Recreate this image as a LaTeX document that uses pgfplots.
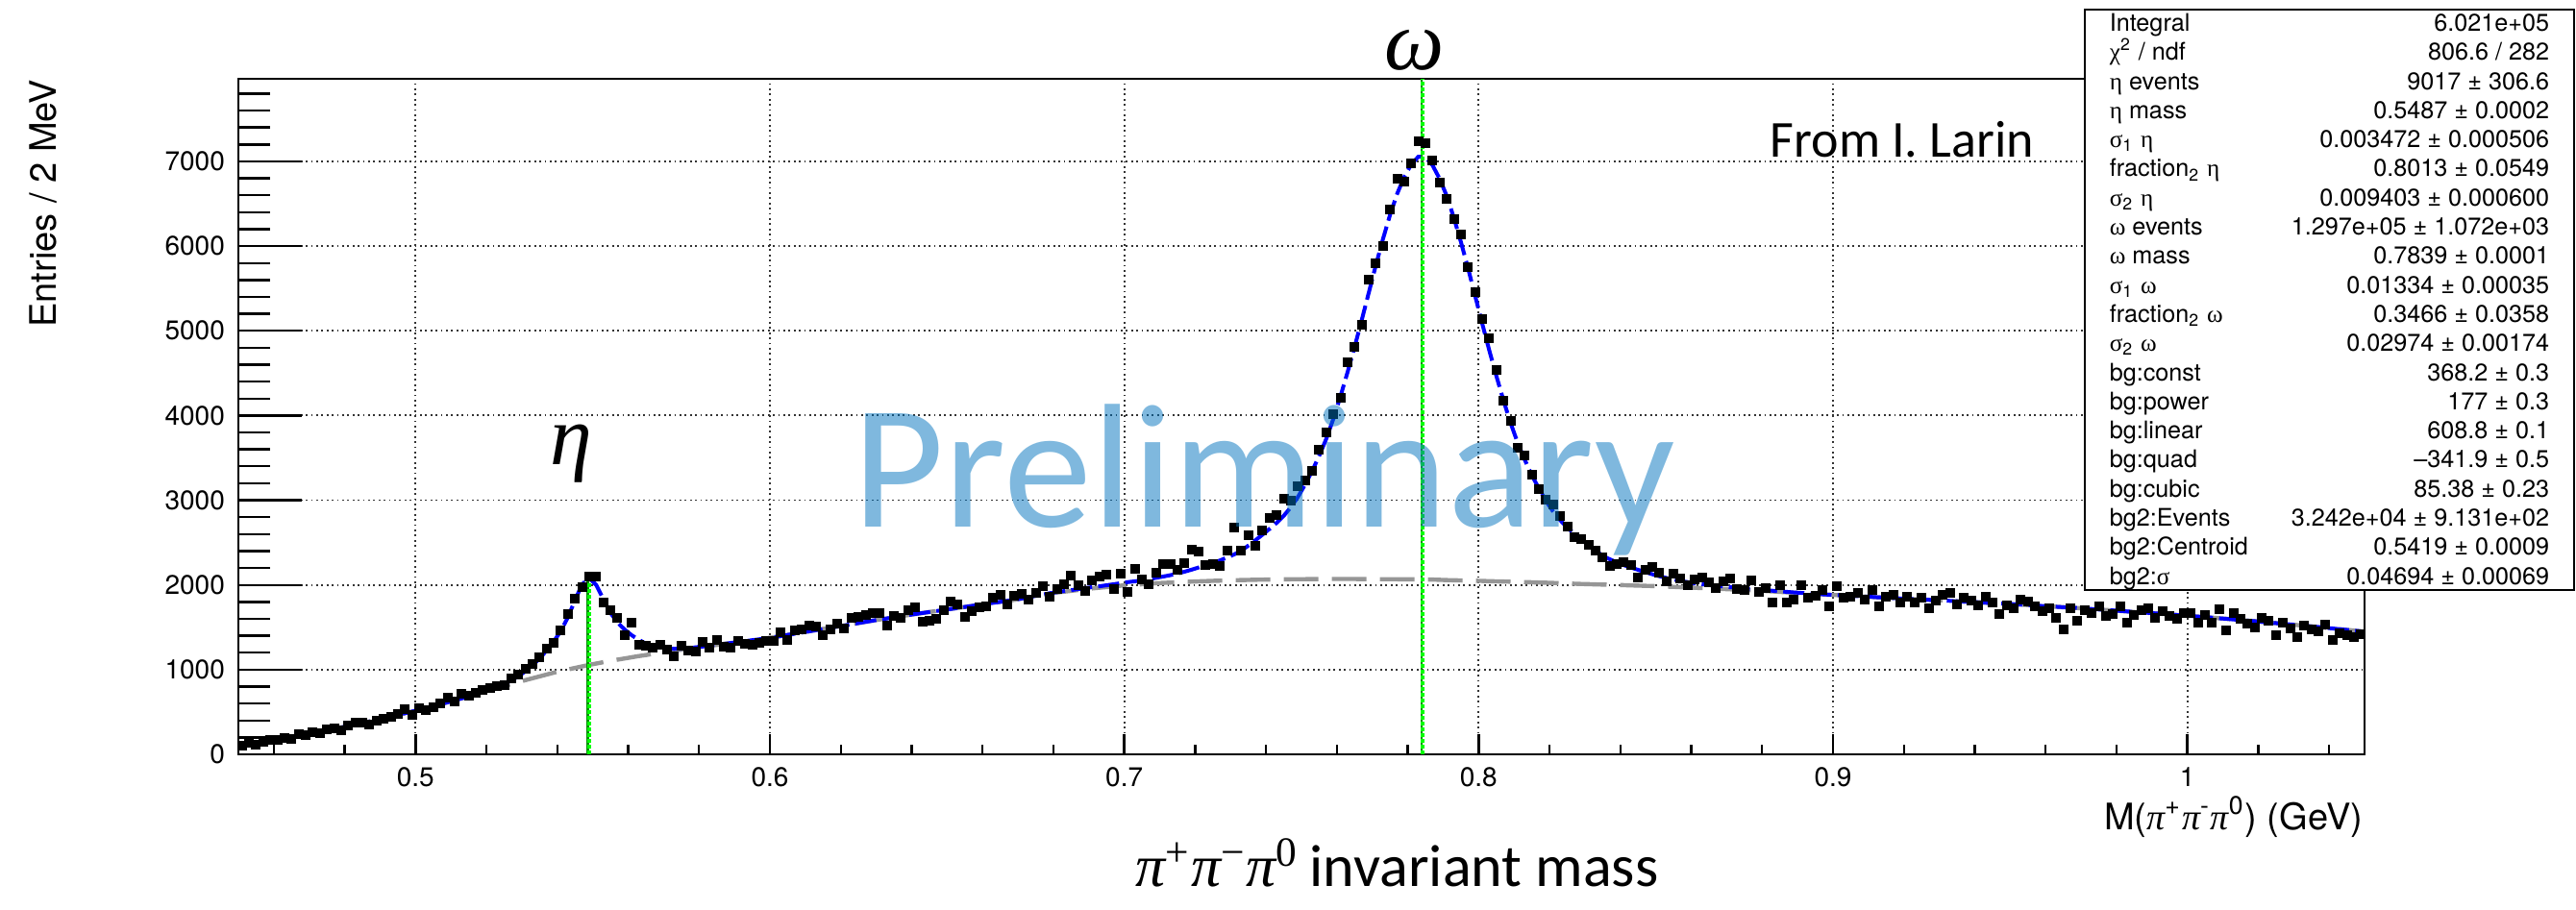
\documentclass[border=0pt]{standalone}
\usepackage{fontspec}
\setmainfont{TeX Gyre Heros}
\newfontfamily\calib{Carlito}
\newfontfamily\serif{Liberation Serif}
\usepackage{pgfplots}
\usepackage{pgfplotstable}
\pgfplotsset{compat=1.18}
\definecolor{prelim}{RGB}{0,114,189}
\definecolor{dkgreen}{RGB}{0,140,0}
\definecolor{ltgreen}{RGB}{0,255,0}
\definecolor{fitblue}{RGB}{0,0,255}
\definecolor{bggray}{RGB}{150,150,150}

\pgfplotstableread{
x b f d
0.451 116 116 100
0.453 128 128 138
0.455 140 140 112
0.457 152 152 146
0.459 164 164 171
0.461 178 178 165
0.463 192 192 188
0.465 208 208 180
0.467 222 222 237
0.469 238 238 226
0.471 253 253 262
0.473 269 269 251
0.475 285 285 297
0.477 301 301 306
0.479 317 317 284
0.481 334 334 340
0.483 352 352 371
0.485 370 370 378
0.487 388 388 352
0.489 406 406 398
0.491 425 425 419
0.493 445 445 441
0.495 465 465 482
0.497 485 485 532
0.499 505 505 470
0.501 526 526 541
0.503 548 548 522
0.505 570 570 561
0.507 592 592 604
0.509 614 614 668
0.511 637 637 622
0.513 661 661 712
0.515 685 686 690
0.517 709 711 726
0.519 733 737 758
0.521 757 764 780
0.523 781 796 806
0.525 805 830 822
0.527 829 872 901
0.529 853 921 943
0.531 876 980 1015
0.533 898 1050 1068
0.535 920 1132 1141
0.537 942 1225 1252
0.539 964 1331 1318
0.541 984 1457 1466
0.543 1002 1618 1655
0.545 1020 1820 1834
0.547 1038 2007 1972
0.549 1056 2080 2102
0.551 1072 1998 2094
0.553 1088 1831 1795
0.555 1102 1671 1702
0.557 1118 1556 1612
0.559 1132 1473 1405
0.561 1146 1406 1552
0.563 1160 1352 1296
0.565 1172 1308 1280
0.567 1186 1278 1262
0.569 1198 1257 1298
0.571 1211 1248 1231
0.573 1223 1245 1160
0.575 1235 1247 1283
0.577 1247 1254 1230
0.579 1259 1263 1215
0.581 1270 1272 1330
0.583 1282 1282 1255
0.585 1292 1292 1351
0.587 1304 1304 1272
0.589 1314 1314 1262
0.591 1326 1326 1340
0.593 1336 1336 1301
0.595 1348 1348 1292
0.597 1358 1358 1318
0.599 1370 1370 1335
0.601 1382 1382 1338
0.603 1396 1396 1441
0.605 1410 1410 1352
0.607 1424 1424 1460
0.609 1438 1438 1476
0.611 1452 1452 1521
0.613 1466 1466 1513
0.615 1480 1480 1402
0.617 1494 1494 1478
0.619 1508 1508 1545
0.621 1522 1522 1490
0.623 1536 1536 1612
0.625 1550 1550 1622
0.627 1564 1564 1640
0.629 1578 1578 1668
0.631 1592 1592 1672
0.633 1604 1604 1515
0.635 1618 1618 1634
0.637 1630 1630 1612
0.639 1644 1644 1706
0.641 1656 1656 1732
0.643 1668 1668 1560
0.645 1680 1680 1582
0.647 1692 1692 1601
0.649 1704 1704 1698
0.651 1716 1716 1808
0.653 1728 1728 1765
0.655 1740 1740 1622
0.657 1752 1752 1690
0.659 1764 1764 1735
0.661 1776 1776 1742
0.663 1788 1788 1850
0.665 1800 1800 1885
0.667 1812 1812 1768
0.669 1824 1824 1875
0.671 1838 1840 1890
0.673 1852 1854 1826
0.675 1868 1870 1905
0.677 1882 1885 1980
0.679 1898 1902 1862
0.681 1910 1915 1948
0.683 1920 1927 2010
0.685 1930 1938 2105
0.687 1940 1951 2002
0.689 1950 1963 1930
0.691 1959 1974 2050
0.693 1967 1984 2098
0.695 1975 1996 2125
0.697 1983 2008 1955
0.699 1991 2021 2136
0.701 1998 2033 1918
0.703 2003 2043 2190
0.705 2008 2054 2062
0.707 2014 2068 2003
0.709 2020 2084 2140
0.711 2024 2099 2248
0.713 2027 2115 2246
0.715 2031 2134 2175
0.717 2035 2156 2262
0.719 2039 2180 2420
0.721 2042 2206 2398
0.723 2045 2234 2231
0.725 2048 2262 2250
0.727 2050 2289 2226
0.729 2054 2323 2402
0.731 2056 2360 2675
0.733 2057 2402 2410
0.735 2059 2464 2585
0.737 2061 2527 2462
0.739 2062 2593 2640
0.741 2064 2662 2788
0.743 2065 2733 2820
0.745 2066 2816 3012
0.747 2067 2917 2998
0.749 2068 3038 3170
0.751 2068 3183 3230
0.753 2069 3344 3352
0.755 2069 3524 3601
0.757 2070 3724 3795
0.759 2070 3960 4021
0.761 2070 4225 4205
0.763 2070 4510 4630
0.765 2070 4810 4805
0.767 2069 5125 5075
0.769 2069 5450 5600
0.771 2068 5775 5800
0.773 2068 6083 6001
0.775 2067 6368 6430
0.777 2067 6617 6790
0.779 2066 6816 6760
0.781 2066 6966 6980
0.783 2065 7055 7235
0.785 2064 7050 7215
0.787 2063 6953 7014
0.789 2060 6794 6745
0.791 2057 6592 6560
0.793 2055 6335 6315
0.795 2053 6048 6135
0.797 2051 5741 5752
0.799 2049 5414 5460
0.801 2047 5087 5144
0.803 2044 4769 4917
0.805 2042 4467 4536
0.807 2040 4180 4175
0.809 2038 3913 3932
0.811 2035 3680 3620
0.813 2033 3478 3532
0.815 2031 3296 3306
0.817 2028 3138 3126
0.819 2026 2991 3010
0.821 2023 2868 2946
0.823 2020 2765 2810
0.825 2017 2678 2690
0.827 2014 2605 2563
0.829 2011 2535 2540
0.831 2009 2468 2473
0.833 2006 2406 2405
0.835 2004 2344 2330
0.837 2002 2303 2225
0.839 2000 2266 2250
0.841 1997 2233 2270
0.843 1994 2205 2230
0.845 1992 2178 2090
0.847 1989 2150 2173
0.849 1987 2126 2211
0.851 1983 2103 2145
0.853 1980 2082 2038
0.855 1977 2064 2135
0.857 1973 2047 2077
0.859 1970 2033 2000
0.861 1966 2019 2060
0.863 1963 2008 2082
0.865 1959 1998 2028
0.867 1956 1991 1962
0.869 1952 1982 2040
0.871 1948 1973 2077
0.873 1944 1964 1948
0.875 1940 1957 1942
0.877 1936 1951 2058
0.879 1932 1945 1920
0.881 1928 1939 1968
0.883 1923 1931 1788
0.885 1918 1925 2000
0.887 1913 1918 1788
0.889 1908 1911 1830
0.891 1904 1906 2000
0.893 1899 1899 1846
0.895 1894 1894 1872
0.897 1889 1889 1942
0.899 1884 1884 1750
0.901 1880 1880 1990
0.903 1875 1875 1846
0.905 1871 1871 1865
0.907 1867 1867 1905
0.909 1862 1862 1822
0.911 1858 1858 1942
0.913 1853 1853 1750
0.915 1849 1849 1860
0.917 1845 1845 1885
0.919 1840 1840 1798
0.921 1836 1836 1865
0.923 1832 1832 1790
0.925 1828 1828 1846
0.927 1824 1824 1730
0.929 1820 1820 1812
0.931 1816 1816 1880
0.933 1812 1812 1904
0.935 1807 1807 1768
0.937 1803 1803 1846
0.939 1799 1799 1812
0.941 1795 1795 1760
0.943 1790 1790 1865
0.945 1786 1786 1790
0.947 1781 1781 1654
0.949 1777 1777 1760
0.951 1772 1772 1722
0.953 1768 1768 1827
0.955 1762 1762 1800
0.957 1758 1758 1750
0.959 1752 1752 1690
0.961 1747 1747 1722
0.963 1742 1742 1615
0.965 1737 1737 1480
0.967 1732 1732 1730
0.969 1727 1727 1577
0.971 1721 1721 1698
0.973 1716 1716 1668
0.975 1710 1710 1742
0.977 1704 1704 1635
0.979 1699 1699 1658
0.981 1693 1693 1750
0.983 1687 1687 1558
0.985 1681 1681 1640
0.987 1676 1676 1702
0.989 1670 1670 1730
0.991 1664 1664 1615
0.993 1658 1658 1690
0.995 1652 1652 1635
0.997 1645 1645 1596
0.999 1639 1639 1673
1.001 1633 1633 1662
1.003 1626 1626 1558
1.005 1620 1620 1640
1.007 1613 1613 1558
1.009 1606 1606 1711
1.011 1600 1600 1461
1.013 1592 1592 1673
1.015 1586 1586 1602
1.017 1578 1578 1548
1.019 1572 1572 1500
1.021 1564 1564 1615
1.023 1556 1556 1575
1.025 1549 1549 1404
1.027 1541 1541 1558
1.029 1534 1534 1490
1.031 1526 1526 1385
1.033 1518 1518 1520
1.035 1510 1510 1480
1.037 1502 1502 1452
1.039 1494 1494 1530
1.041 1486 1486 1346
1.043 1477 1477 1430
1.045 1469 1469 1404
1.047 1461 1461 1385
1.049 1452 1452 1420
}\histtable

\newcommand\g[1]{{\serif #1}}
\newcommand\statrow[3]{%
  \node[anchor=base west,inner sep=0] at (2194,{913.6-30.3*#1}) {#2};
  \node[anchor=base east,inner sep=0] at (2653,{913.6-30.3*#1}) {#3};}

\begin{document}
\begin{tikzpicture}
\useasboundingbox (0,0) rectangle (670pt,236.5pt);
\begin{axis}[
  at={(62pt,40.25pt)}, anchor=south west,
  width=553pt, height=175.75pt, scale only axis,
  xmin=0.45, xmax=1.05, ymin=0, ymax=7975,
  xtick={0.5,0.6,0.7,0.8,0.9,1.0},
  xticklabels={0.5,0.6,0.7,0.8,0.9,1},
  minor xtick={0.46,0.48,0.52,0.54,0.56,0.58,0.62,0.64,0.66,0.68,0.72,0.74,0.76,0.78,0.82,0.84,0.86,0.88,0.92,0.94,0.96,0.98,1.02,1.04},
  ytick={0,1000,2000,3000,4000,5000,6000,7000},
  yticklabels={0,1000,2000,3000,4000,5000,6000,7000},
  scaled y ticks=false,
  tick pos=left,
  major tick length=5.25pt, minor tick length=2.6pt,
  xtick style={black, line width=0.6pt},
  ytick style={draw=none},
  tick label style={font=\fontsize{7}{8}\selectfont},
  /pgf/number format/assume math mode=true,
  grid=major,
  major grid style={black!80, line width=0.45pt, dash pattern=on 0.45pt off 0.9pt},
  axis line style={black, line width=0.7pt},
]
\addplot[bggray, line width=1.1pt, dash pattern=on 9pt off 3.5pt, no marks] table[x=x,y=b]{\histtable};
\addplot[fitblue, line width=1pt, dash pattern=on 5.5pt off 1.6pt, no marks] table[x=x,y=f]{\histtable};
\addplot[only marks, mark=square*, mark size=1.05pt, black] table[x=x,y=d]{\histtable};
\addplot[dkgreen, line width=0.7pt] coordinates {(0.5487,0) (0.5487,2080)};
\addplot[ltgreen, line width=0.9pt, dash pattern=on 0.9pt off 0.6pt] coordinates {(0.54905,0) (0.54905,2080)};
\addplot[dkgreen, line width=0.7pt] coordinates {(0.7839,0) (0.7839,7975)};
\addplot[ltgreen, line width=0.9pt, dash pattern=on 0.9pt off 0.6pt] coordinates {(0.78425,0) (0.78425,7975)};
\end{axis}
\begin{axis}[
  at={(62pt,40.25pt)}, anchor=south west,
  width=553pt, height=175.75pt, scale only axis,
  xmin=0.45, xmax=1.05, ymin=0, ymax=7975,
  xtick=\empty,
  ytick={0,1000,2000,3000,4000,5000,6000,7000},
  minor ytick={200,400,600,800,1200,1400,1600,1800,2200,2400,2600,2800,3200,3400,3600,3800,4200,4400,4600,4800,5200,5400,5600,5800,6200,6400,6600,6800,7200,7400,7600,7800},
  yticklabels={},
  tick pos=left,
  major tick length=16.5pt, minor tick length=8.25pt,
  ytick style={black, line width=0.6pt},
  axis line style={draw=none},
]
\end{axis}
\begin{scope}[x=0.25pt,y=0.25pt]
% Preliminary watermark
\node[anchor=base west, inner sep=0, font={\calib\fontsize{46}{50}\selectfont}, text=prelim, text opacity=0.5] at (887,398) {Preliminary};
% peak labels
\node[anchor=base, inner sep=0, font={\serif\itshape\fontsize{22}{26}\selectfont}] at (1472,874) {ω};
\node[anchor=base, inner sep=0, font={\serif\itshape\fontsize{22}{26}\selectfont}] at (594,463) {η};
\node[anchor=base west, inner sep=0, font={\calib\fontsize{13.5}{16}\selectfont}] at (1841,783) {From I. Larin};
% axis titles
\node[rotate=90, anchor=east, inner sep=0, font=\fontsize{9.5}{11}\selectfont] at (45,864) {Entries / 2 MeV};
\node[anchor=base east, inner sep=0, font=\fontsize{9.5}{11}\selectfont] at (2459,83) {M(\g{\itshape π}\textsuperscript{+}\g{\itshape π}\textsuperscript{-}\g{\itshape π}\textsuperscript{0}) (GeV)};
% bottom caption
\node[anchor=base west, inner sep=0] at (1181,24) {{\serif\itshape\fontsize{15.5}{18}\selectfont π\textsuperscript{\upshape +}π\textsuperscript{\upshape −}π\textsuperscript{\upshape 0}} {\calib\fontsize{15.5}{18}\selectfont invariant mass}};
% stats box
\draw[fill=white, line width=0.7pt] (2169,332) rectangle (2678,936);
\begin{scope}[font=\fontsize{6.3}{7}\selectfont]
\statrow{0}{Integral}{6.021e+05}
\statrow{1}{\g{χ}\textsuperscript{2} / ndf}{806.6 / 282}
\statrow{2}{\g{η} events}{9017 ± 306.6}
\statrow{3}{\g{η} mass}{0.5487 ± 0.0002}
\statrow{4}{\g{σ}\textsubscript{1} \g{η}}{0.003472 ± 0.000506}
\statrow{5}{fraction\textsubscript{2} \g{η}}{0.8013 ± 0.0549}
\statrow{6}{\g{σ}\textsubscript{2} \g{η}}{0.009403 ± 0.000600}
\statrow{7}{\g{ω} events}{1.297e+05 ± 1.072e+03}
\statrow{8}{\g{ω} mass}{0.7839 ± 0.0001}
\statrow{9}{\g{σ}\textsubscript{1} \g{ω}}{0.01334 ± 0.00035}
\statrow{10}{fraction\textsubscript{2} \g{ω}}{0.3466 ± 0.0358}
\statrow{11}{\g{σ}\textsubscript{2} \g{ω}}{0.02974 ± 0.00174}
\statrow{12}{bg:const}{368.2 ± 0.3}
\statrow{13}{bg:power}{177 ± 0.3}
\statrow{14}{bg:linear}{608.8 ± 0.1}
\statrow{15}{bg:quad}{–341.9 ± 0.5}
\statrow{16}{bg:cubic}{85.38 ± 0.23}
\statrow{17}{bg2:Events}{3.242e+04 ± 9.131e+02}
\statrow{18}{bg2:Centroid}{0.5419 ± 0.0009}
\statrow{19}{bg2:\g{σ}}{0.04694 ± 0.00069}
\end{scope}
\end{scope}
\end{tikzpicture}
\end{document}
